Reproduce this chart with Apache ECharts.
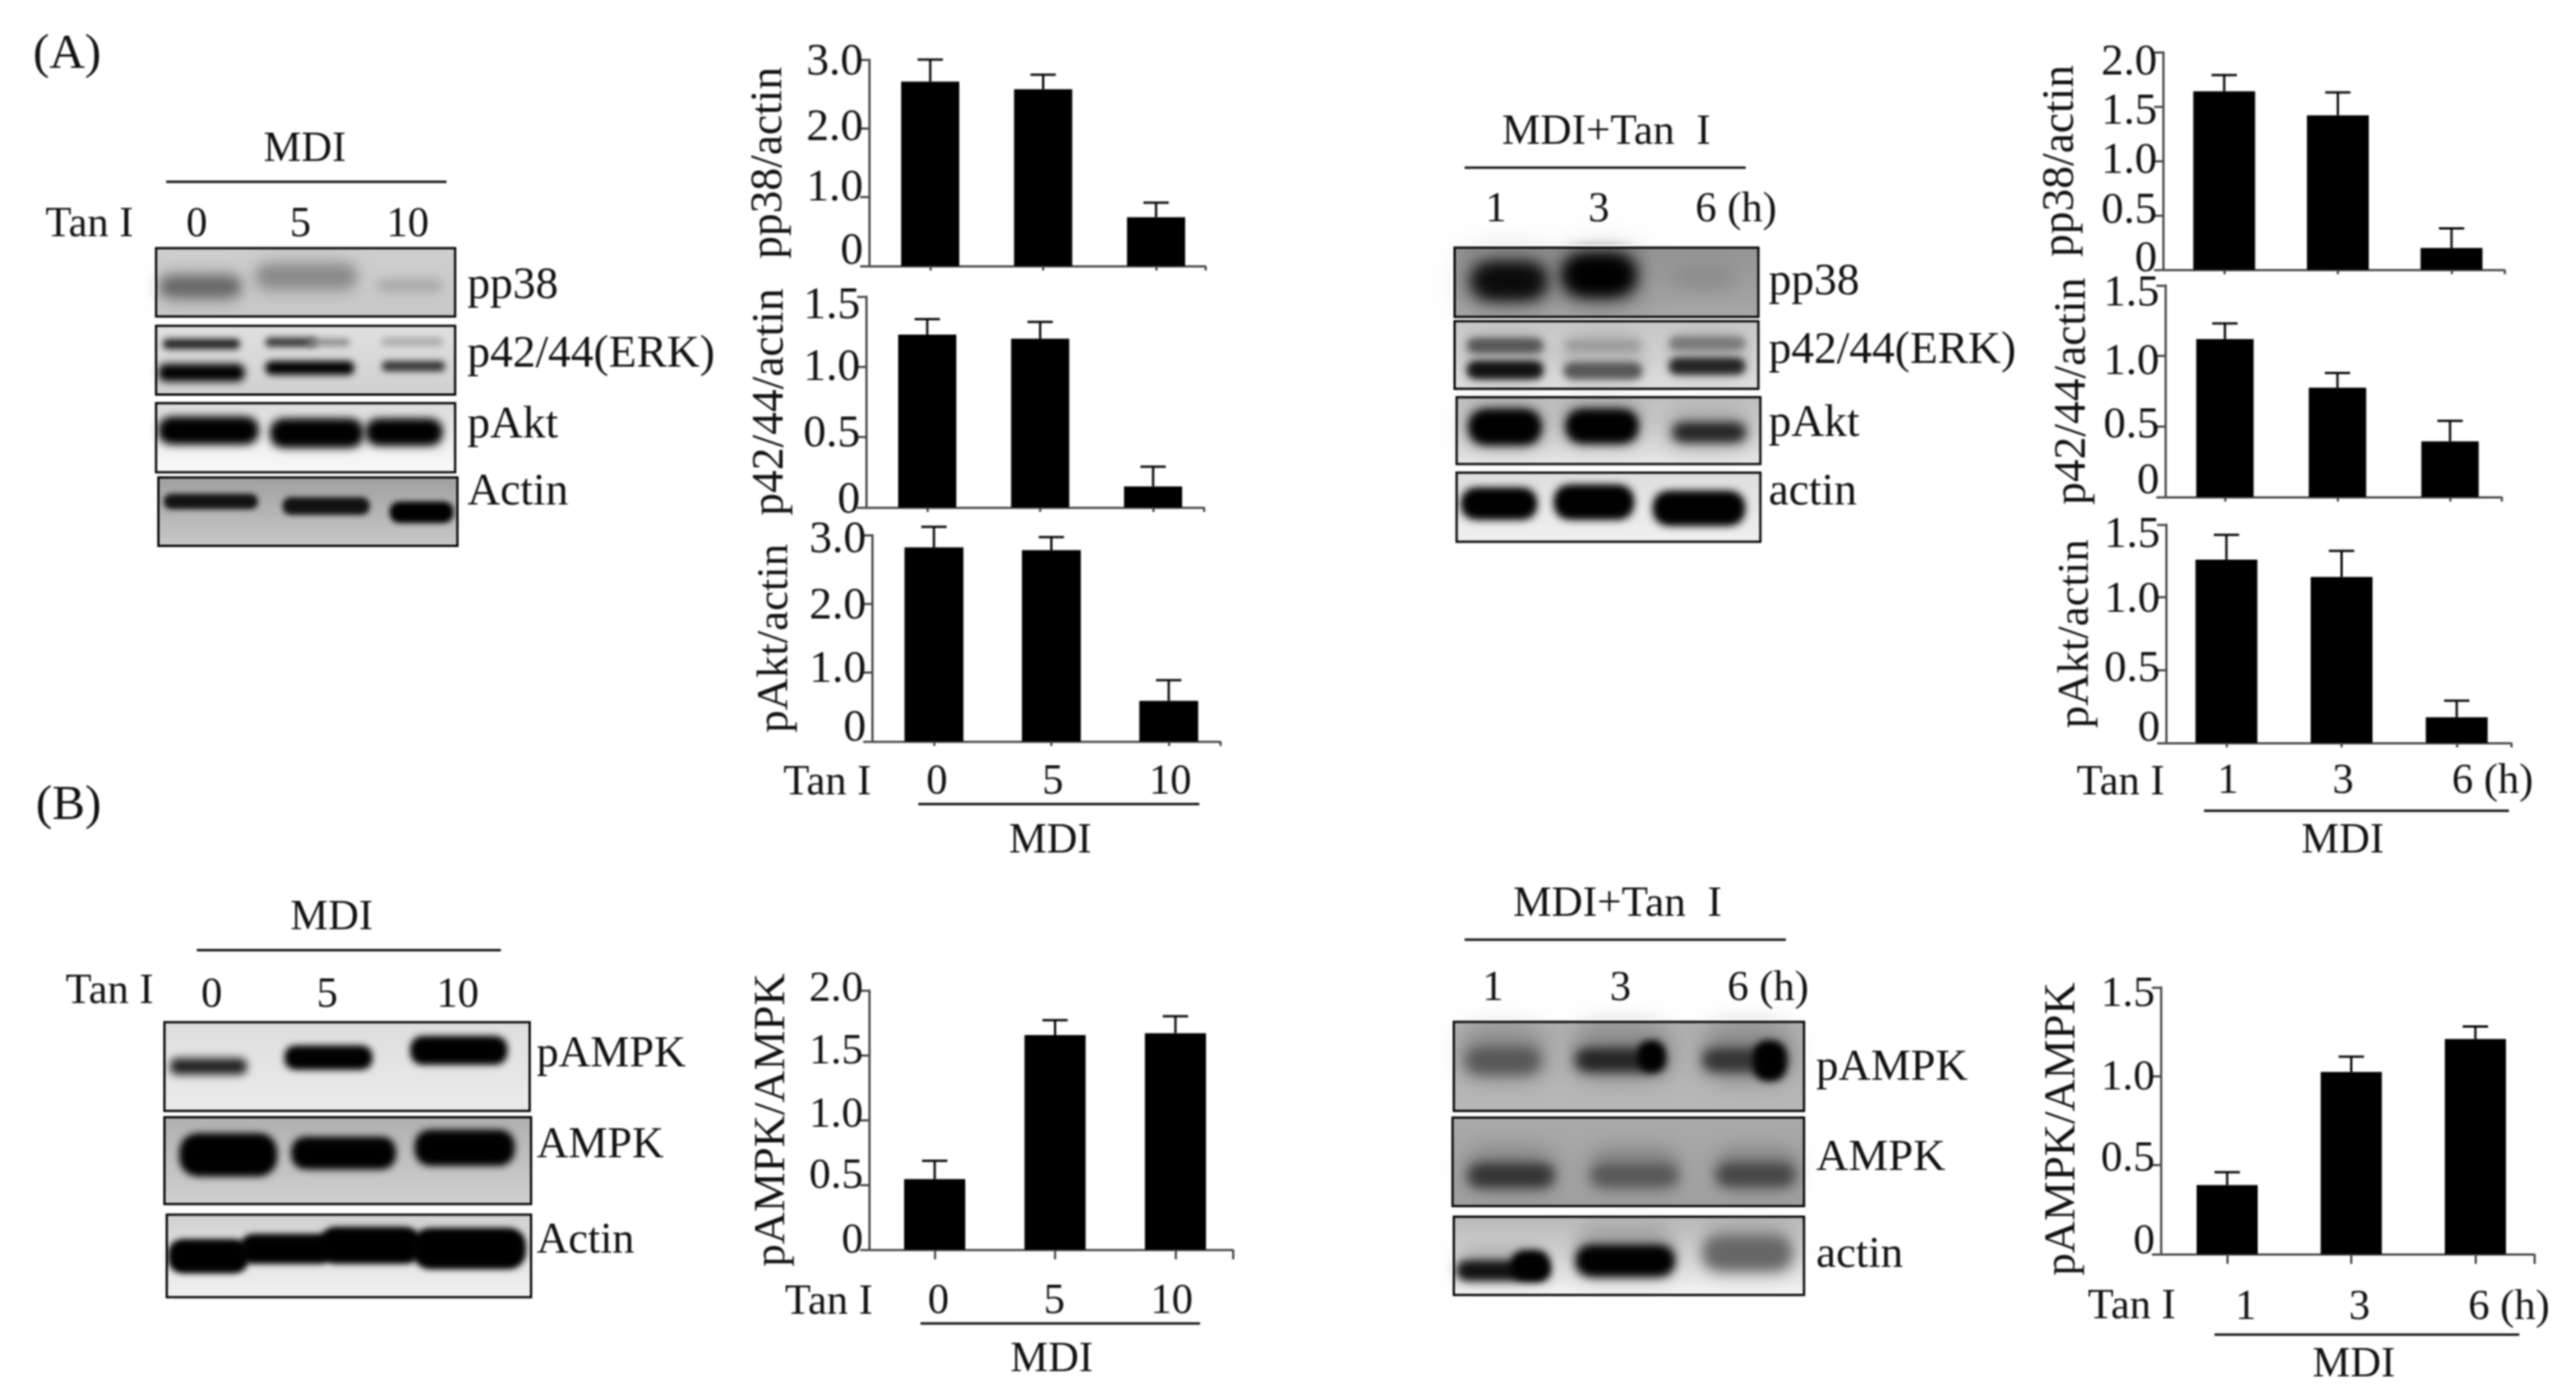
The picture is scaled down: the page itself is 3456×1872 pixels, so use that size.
<!DOCTYPE html>
<html><head><meta charset="utf-8">
<style>html,body{margin:0;padding:0;background:#fff}#c{width:3456px;height:1872px;filter:blur(0.8px)}</style>
<script src="https://cdn.jsdelivr.net/npm/echarts@6/dist/echarts.min.js"></script>
</head><body><div id="c"></div>
<script>
// ---- data ----
const doseLabels = ['0','5','10'];
const hourLabels = ['1','3','6 (h)'];
const p38Dose = [2.68,2.57,0.71];      const p38DoseErr = [0.32,0.21,0.21];
const erkDose = [1.23,1.20,0.15];      const erkDoseErr = [0.11,0.12,0.14];
const aktDose = [2.82,2.78,0.59];      const aktDoseErr = [0.30,0.19,0.30];
const p38Hour = [1.64,1.42,0.20];      const p38HourErr = [0.15,0.21,0.18];
const erkHour = [1.12,0.775,0.395];    const erkHourErr = [0.11,0.105,0.145];
const aktHour = [1.26,1.14,0.176];     const aktHourErr = [0.17,0.18,0.114];
const ampkDose = [0.545,1.655,1.67];   const ampkDoseErr = [0.141,0.115,0.13];
const ampkHour = [0.389,1.024,1.21];   const ampkHourErr = [0.072,0.086,0.07];

// ---- layout ----
const FF = '"Liberation Serif","Times New Roman",serif', INK = '#111', AX = '#4a4a4a';
const charts = [
 {v:p38Dose,e:p38DoseErr,title:'pp38/actin',tf:61,lf:61,max:3,step:1,l:1166,r:1617,t:80,b:357,c:[1248,1551],bw:78,gap:104,tick:6,ys:[19,12,0,-4]},
 {v:erkDose,e:erkDoseErr,title:'p42/44/actin',tf:61,lf:61,max:1.5,step:.5,l:1162,r:1615,t:398,b:681,c:[1244,1547],bw:78,gap:98,tick:6,ys:[9,4,-2,-13]},
 {v:aktDose,e:aktDoseErr,title:'pAkt/actin',tf:60,lf:61,max:3,step:1,l:1170,r:1637,t:718,b:995,c:[1253,1568],bw:79,gap:100,tick:6,ys:[17,4,-4,-7],labels:doseLabels,xs:[4,2,2],m:27},
 {v:p38Hour,e:p38HourErr,title:'pp38/actin',tf:61,lf:60,max:2,step:.5,l:2902,r:3360,t:70,b:362,c:[2984,3289],bw:83,gap:107,tick:6,ys:[14,6,0,-7,-14]},
 {v:erkHour,e:erkHourErr,title:'p42/44/actin',tf:61,lf:60,max:1.5,step:.5,l:2905,r:3356,t:383,b:667,c:[2985,3287],bw:77,gap:94,tick:6,ys:[21,1,-9,-11]},
 {v:aktHour,e:aktHourErr,title:'pAkt/actin',tf:60,lf:60,max:1.5,step:.5,l:2906,r:3369,t:704,b:997,c:[2987,3296],bw:83,gap:91,tick:6,ys:[19,1,-4,-14],labels:hourLabels,xs:[2,2,48],m:24},
 {v:ampkDose,e:ampkDoseErr,title:'pAMPK/AMPK',tf:60,lf:58,max:2,step:.5,l:1166,r:1654,t:1329,b:1677,c:[1254,1577],bw:82,gap:100,tick:13,ys:[11,11,6,4,1],labels:doseLabels,xs:[5,-1,-5],m:42},
 {v:ampkHour,e:ampkHourErr,title:'pAMPK/AMPK',tf:60,lf:58,tp:[0,22,0,0],max:1.5,step:.5,l:2899,r:3400,t:1325,b:1683,c:[2988,3321],bw:82,gap:102,tick:13,ys:[16,8,-2,-10],labels:hourLabels,xs:[25,11,45],m:44}
];

const grid=[],xAxis=[],yAxis=[],series=[];
charts.forEach((ch,i)=>{
  const unit=(ch.c[1]-ch.c[0])/2;
  const xmin=-(ch.c[0]-ch.l)/unit, xmax=2+(ch.r-ch.c[1])/unit;
  grid.push({left:ch.l,top:ch.t,width:ch.r-ch.l,height:ch.b-ch.t,containLabel:false});
  const xrich={};
  if(ch.labels) ch.xs.forEach((s,k)=>{xrich['s'+k]={fontFamily:FF,fontSize:57,color:INK,padding:s>=0?[0,0,0,2*s]:[0,-2*s,0,0]};});
  xAxis.push({type:'value',gridIndex:i,min:xmin,max:xmax,splitLine:{show:false},
    axisLine:{onZero:false,lineStyle:{color:AX,width:3}},
    axisTick:{show:true,length:ch.tick,customValues:[0,1,2,xmax],lineStyle:{color:AX,width:3}},
    axisLabel:ch.labels?{show:true,customValues:[0,1,2],margin:ch.m,rich:xrich,
      formatter:v=>`{s${Math.round(v)}|${ch.labels[Math.round(v)]}}`}:{show:false}});
  const yrich={};
  ch.ys.forEach((s,k)=>{yrich['t'+k]={fontFamily:FF,fontSize:ch.lf,color:INK,padding:s>=0?[0,0,2*s,0]:[-2*s,0,0,0]};});
  yAxis.push({type:'value',gridIndex:i,min:0,max:ch.max,interval:ch.step,splitLine:{show:false},
    name:ch.title,nameLocation:'middle',nameGap:ch.gap,
    nameTextStyle:{fontFamily:FF,fontSize:ch.tf,color:INK,padding:ch.tp||0},
    axisLine:{show:true,onZero:false,lineStyle:{color:AX,width:3}},
    axisTick:{show:true,length:12,lineStyle:{color:AX,width:3}},
    axisLabel:{margin:8,rich:yrich,formatter:v=>{
      const k=Math.round(v/ch.step);
      return `{t${k}|${v===0?'0':v.toFixed(1)}}`;}}});
  series.push({type:'bar',xAxisIndex:i,yAxisIndex:i,barWidth:ch.bw,itemStyle:{color:'#000'},silent:true,
    data:ch.v.map((y,k)=>[k,y])});
  series.push({type:'custom',xAxisIndex:i,yAxisIndex:i,silent:true,clip:false,
    data:ch.v.map((y,k)=>[k,y,y+ch.e[k]]),
    renderItem:(p,api)=>{
      const a=api.coord([api.value(0),api.value(1)]),b=api.coord([api.value(0),api.value(2)]);
      const st={stroke:'#000',lineWidth:3,fill:null};
      return {type:'group',children:[
        {type:'line',shape:{x1:a[0],y1:a[1],x2:b[0],y2:b[1]},style:st},
        {type:'line',shape:{x1:b[0]-17,y1:b[1],x2:b[0]+17,y2:b[1]},style:st}]};
    }});
});

// ---- annotations ----
const g=[];
const T=(text,x,y,size=57,align='center')=>g.push({type:'text',silent:true,z:400,style:{text,x,y,align,verticalAlign:'middle',font:`${size}px ${FF}`,fill:INK}});
const L=(x1,x2,y)=>g.push({type:'line',silent:true,z:400,shape:{x1,y1:y,x2,y2:y},style:{stroke:'#000',lineWidth:3}});
T('(A)',90,74,66); T('(B)',92,1082,66);
T('MDI',409,201); L(223,599,244); T('Tan I',120,302);
T('0',264,302);T('5',403,302);T('10',547,302);
T('MDI+Tan  I',2155,178,58); L(1965,2342,225);
T('1',2007,282);T('3',2145,282);T('6 (h)',2329,282);
T('MDI',445,1232); L(264,672,1275); T('Tan I',147,1331);
T('0',284,1336);T('5',439,1336);T('10',614,1336);
T('MDI+Tan  I',2170,1214,58); L(1965,2396,1261);
T('1',2003,1327);T('3',2174,1327);T('6 (h)',2372,1327);
T('Tan I',1110,1051);L(1232,1609,1079);T('MDI',1409,1129);
T('Tan I',2845,1051);L(2957,3366,1088);T('MDI',3143,1129);
T('Tan I',1112,1748);L(1235,1610,1776);T('MDI',1411,1825);
T('Tan I',2860,1754);L(2971,3380,1791);T('MDI',3158,1832);

// ---- blot panels: bands are soft shapes, only their blurred shadow shows ----
const OFF=8000; let Z=1;
function blot(tf,x0,x1,y0,y1,bg,label,lx,ly,bands,fs=61){
  const X=v=>tf[0]+v/tf[2], Y=v=>tf[1]+v/tf[3];
  const bx=X(x0),by=Y(y0),bw=X(x1)-bx,bh=Y(y1)-by;
  g.push({type:'rect',silent:true,z:Z++,shape:{x:bx,y:by,width:bw,height:bh},
    style:{fill:{type:'linear',x:0,y:0,x2:0,y2:1,colorStops:[{offset:0,color:bg[0]},{offset:1,color:bg[1]}]}}});
  bands.forEach(b=>{
    const x=X(b[0]),w=X(b[1])-x,y=Y(b[2]),h=Y(b[3])-y;
    for(let n=0;n<(b[6]||1);n++)
      g.push({type:'rect',silent:true,z:Z++,shape:{x:x-OFF,y,width:w,height:h,r:Math.min(w,h)/2.5},
        style:{fill:'#000',shadowBlur:b[5]||14,shadowColor:b[4],shadowOffsetX:OFF}});
  });
  const m=4;
  [[bx-m,by-m,bw+2*m,m],[bx-m,by+bh,bw+2*m,m],[bx-m,by,m,bh],[bx+bw,by,m,bh]].forEach(r=>
    g.push({type:'rect',silent:true,z:Z++,shape:{x:r[0],y:r[1],width:r[2],height:r[3]},style:{fill:'#fff'}}));
  g.push({type:'rect',silent:true,z:Z++,shape:{x:bx,y:by,width:bw,height:bh},style:{fill:null,stroke:'#000',lineWidth:3}});
  g.push({type:'text',silent:true,z:400,style:{text:label,x:X(lx),y:Y(ly),align:'left',verticalAlign:'middle',font:`${fs}px ${FF}`,fill:INK}});
}
const A1=[0,30,1.6,2.178],A2=[1900,120,1.845,2.45],B1=[0,1040,1.6,2.119],B2=[1900,1150,1.845,2.45];
const H='rgba(0,0,0,.22)',H2='rgba(0,0,0,.13)';
blot(A1,335,977,660,860,['#cfcfcf','#c8c8c8'],'pp38',1003,770,[[345,515,730,815,H,24],[550,765,700,785,H,24],[345,515,745,800,'#666',16],[555,760,715,770,'#8a8a8a',16],[810,950,750,790,'#aaa',14]]);
blot(A1,335,977,887,1088,['#e0e0e0','#d0d0d0'],'p42/44(ERK)',1003,972,[[350,515,925,955,'#222',9],[340,525,998,1050,'#000',11],[570,680,922,948,'#333',8],[660,750,925,945,'#888',8],[570,760,990,1030,'#000',10],[820,950,922,945,'#aaa',8],[820,955,990,1020,'#333',9]]);
blot(A1,335,977,1113,1315,['#dcdcdc','#fafafa'],'pAkt',1003,1178,[[345,550,1160,1226,'#000',14,2],[585,775,1165,1236,'#000',14,2],[790,945,1165,1230,'#000',14,2]]);
blot(A1,340,982,1330,1530,['#a0a0a0','#c8c8c8'],'Actin',1003,1375,[[355,550,1383,1418,'#111',9,2],[610,790,1393,1434,'#111',9,2],[840,970,1406,1458,'#000',9,2]]);

blot(A2,95,847,520,748,['#949494','#a8a8a8'],'pp38',872,635,[[120,330,540,720,H,40],[360,560,530,720,H,40],[150,310,590,670,'#0a0a0a',26,3],[375,530,560,660,'#000',26,3],[630,790,585,650,'#888',26]]);
blot(A2,95,847,762,984,['#c8c8c8','#e0e0e0'],'p42/44(ERK)',872,860,[[120,320,800,960,H2,24],[360,565,800,960,H2,24],[625,815,800,950,H2,24],[130,310,825,860,'#555',12,2],[130,310,900,945,'#111',12,2],[370,555,825,860,'#999',12],[370,555,905,945,'#555',12,2],[630,810,820,850,'#777',12,2],[630,810,890,930,'#222',12,2]]);
blot(A2,100,852,1012,1232,['#c0c0c0','#e8e8e8'],'pAkt',872,1100,[[120,320,1040,1180,H,30],[360,560,1030,1170,H,30],[620,825,1060,1180,H,30],[140,300,1065,1155,'#000',16,3],[380,540,1065,1150,'#000',16,3],[640,810,1105,1150,'#222',16,2]]);
blot(A2,100,852,1260,1487,['#dedede','#f0f0f0'],'actin',872,1325,[[120,290,1322,1402,'#000',14,3],[350,530,1312,1402,'#000',14,3],[595,805,1332,1422,'#000',14,3]]);

blot(B1,353,1137,703,955,['#dedede','#ebebeb'],'pAMPK',1152,795,[[365,530,805,852,'#222',12],[615,795,775,832,'#000',11,2],[885,1085,748,818,'#000',11,2]],59);
blot(B1,353,1140,973,1220,['#b0b0b0','#d0d0d0'],'AMPK',1152,1055,[[390,590,1025,1135,'#000',12,2],[630,845,1035,1115,'#000',12,2],[895,1100,1015,1105,'#000',12,2]],59);
blot(B1,358,1140,1250,1485,['#d0d0d0','#f2f2f2'],'Actin',1152,1325,[[365,530,1325,1412,'#000',10,2],[520,710,1310,1385,'#000',10,2],[690,900,1290,1385,'#000',10,2],[890,1125,1293,1400,'#000',10,2]],59);

blot(B2,93,960,542,835,['#b0b0b0','#b8b8b8'],'pAMPK',990,695,[[110,320,560,730,H,30],[390,630,550,730,H,30],[710,930,550,740,H,30],[130,300,640,700,'#555',20,2],[400,610,640,695,'#222',18,2],[555,610,610,700,'#000',12,2],[715,910,640,695,'#333',18,2],[840,910,610,730,'#000',12,2]],60);
blot(B2,90,960,857,1148,['#aaaaaa','#a0a0a0'],'AMPK',990,990,[[125,340,960,1100,H,30],[430,650,960,1100,H,24],[740,945,960,1100,H,24],[135,335,1020,1075,'#333',18,2],[440,640,1025,1070,'#555',18,2],[750,930,1020,1070,'#444',18,2]],60);
blot(B2,93,960,1183,1440,['#b8b8b8','#f4f4f4'],'actin',990,1310,[[105,325,1290,1390,H,26],[395,640,1220,1390,H,26],[710,930,1220,1370,H,26],[105,325,1335,1385,'#111',14,2],[240,325,1300,1385,'#000',12,2],[405,630,1290,1365,'#000',16,3],[720,920,1260,1345,'#666',20,2]],60);

const chart=echarts.init(document.getElementById('c'),null,{renderer:'canvas',width:3456,height:1872});
chart.setOption({animation:false,backgroundColor:'#fff',tooltip:{show:false},grid,xAxis,yAxis,series,graphic:g});
</script></body></html>
